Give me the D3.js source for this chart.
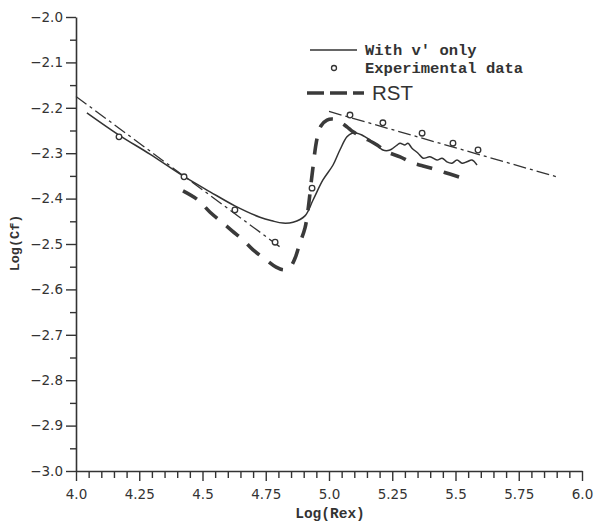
<!DOCTYPE html>
<html>
<head>
<meta charset="utf-8">
<script src="https://cdn.jsdelivr.net/npm/d3@7"></script>
<style>
  body { margin: 0; background: #fff; }
  svg { display: block; }
</style>
</head>
<body>
<svg id="chart" width="595" height="529"></svg>
<script>
// Axis ticks and labels
const xTicks = [4.0, 4.25, 4.5, 4.75, 5.0, 5.25, 5.5, 5.75, 6.0];
const xTickLabels = ["4.0", "4.25", "4.5", "4.75", "5.0", "5.25", "5.5", "5.75", "6.0"];
const yTicks = [-2.0, -2.1, -2.2, -2.3, -2.4, -2.5, -2.6, -2.7, -2.8, -2.9, -3.0];
const yTickLabels = ["−2.0", "−2.1", "−2.2", "−2.3", "−2.4", "−2.5", "−2.6", "−2.7", "−2.8", "−2.9", "−3.0"];

// Computation with v' only (solid)
const vOnlyX = [4.043, 4.170, 4.292, 4.423, 4.530, 4.628, 4.727, 4.775, 4.818, 4.858, 4.905, 4.937, 4.976,
                5.016, 5.043, 5.071, 5.091, 5.111, 5.130, 5.162, 5.190, 5.213, 5.241, 5.269, 5.281, 5.300,
                5.312, 5.328, 5.352, 5.372, 5.399, 5.427, 5.447, 5.466, 5.486, 5.506, 5.526, 5.545, 5.565, 5.585];
const vOnlyY = [-2.211, -2.260, -2.302, -2.350, -2.385, -2.416, -2.441, -2.449, -2.454, -2.452, -2.438, -2.403, -2.359,
                -2.326, -2.293, -2.264, -2.256, -2.256, -2.260, -2.271, -2.282, -2.293, -2.293, -2.282, -2.278, -2.282,
                -2.278, -2.289, -2.300, -2.311, -2.308, -2.315, -2.311, -2.319, -2.322, -2.315, -2.322, -2.319, -2.315, -2.326];

// Reynolds-stress transport model (heavy dashes)
const rstX = [4.423, 4.482, 4.530, 4.577, 4.617, 4.660, 4.700, 4.747, 4.791, 4.822, 4.846, 4.866, 4.885, 4.905,
              4.917, 4.933, 4.953, 4.968, 4.992, 5.020, 5.043, 5.071, 5.095, 5.142, 5.190, 5.229, 5.281, 5.332,
              5.372, 5.427, 5.478, 5.530];
const rstY = [-2.383, -2.403, -2.430, -2.452, -2.471, -2.491, -2.513, -2.533, -2.551, -2.557, -2.551, -2.531, -2.498, -2.465,
              -2.425, -2.348, -2.267, -2.240, -2.227, -2.225, -2.231, -2.242, -2.253, -2.267, -2.282, -2.297, -2.308, -2.322,
              -2.328, -2.337, -2.346, -2.355];

// Experimental data (open circles)
const expX = [4.170, 4.427, 4.628, 4.787, 4.933, 5.083, 5.213, 5.368, 5.490, 5.589];
const expY = [-2.264, -2.352, -2.425, -2.496, -2.377, -2.216, -2.233, -2.256, -2.278, -2.293];

// Laminar and turbulent correlations (thin dash-dot)
const lamX = [4.0, 4.81];
const lamY = [-2.175, -2.508];
const turbX = [5.0, 5.9];
const turbY = [-2.208, -2.352];

const ink = "#333";
const svg = d3.select("#chart");

const x = d3.scaleLinear().domain([4, 6]).range([76, 582]);
const y = d3.scaleLinear().domain([-3, -2]).range([471, 17]);

const zip = (xs, ys) => xs.map((v, i) => [v, ys[i]]);

// ---- axes ----
const tickFont = "'DejaVu Sans', sans-serif";

// minor ticks
const xMinor = d3.range(0, 41).map(i => 4 + i * 0.05).filter(v => Math.abs((v - 4) / 0.25 - Math.round((v - 4) / 0.25)) > 1e-6);
const yMinor = d3.range(0, 10).map(i => -2.05 - i * 0.1);

svg.append("g")
  .attr("transform", `translate(0,${y(-3)})`)
  .call(d3.axisBottom(x).tickValues(xMinor).tickSize(7).tickSizeOuter(0).tickFormat(""))
  .call(g => g.select(".domain").remove());

svg.append("g")
  .attr("transform", `translate(${x(4)},0)`)
  .call(d3.axisLeft(y).tickValues(yMinor).tickSize(6).tickSizeOuter(0).tickFormat(""))
  .call(g => g.select(".domain").remove());

const xAxis = svg.append("g")
  .attr("transform", `translate(0,${y(-3)})`)
  .call(d3.axisBottom(x).tickValues(xTicks).tickSize(10).tickSizeOuter(0).tickPadding(8)
        .tickFormat((d, i) => xTickLabels[i]));

const yAxis = svg.append("g")
  .attr("transform", `translate(${x(4)},0)`)
  .call(d3.axisLeft(y).tickValues(yTicks).tickSize(10).tickSizeOuter(0).tickPadding(3)
        .tickFormat((d, i) => yTickLabels[i]));

svg.selectAll(".tick line").attr("stroke", ink).attr("stroke-width", 1.4);
svg.selectAll(".domain").attr("stroke", ink).attr("stroke-width", 1.6);
svg.selectAll(".tick text")
  .attr("fill", ink)
  .style("font-family", tickFont)
  .style("font-size", "13.5px");

// axis titles
const monoFont = "'Liberation Mono', 'Courier New', monospace";
svg.append("text")
  .attr("x", 330).attr("y", 518)
  .attr("text-anchor", "middle")
  .attr("fill", ink)
  .style("font-family", monoFont).style("font-size", "14.5px").style("font-weight", "bold")
  .text("Log(Rex)");

svg.append("text")
  .attr("transform", "translate(19,243) rotate(-90)")
  .attr("text-anchor", "middle")
  .attr("fill", ink)
  .style("font-family", monoFont).style("font-size", "13.5px").style("font-weight", "bold")
  .text("Log(Cf)");

// ---- series ----
const line = d3.line().x(d => x(d[0])).y(d => y(d[1]));
const smooth = d3.line().x(d => x(d[0])).y(d => y(d[1])).curve(d3.curveCatmullRom.alpha(0.5));

// correlation lines
[[lamX, lamY], [turbX, turbY]].forEach(([xs, ys]) => {
  svg.append("path")
    .attr("d", line(zip(xs, ys)))
    .attr("fill", "none")
    .attr("stroke", ink)
    .attr("stroke-width", 1.3)
    .attr("stroke-dasharray", "13,4,3,4");
});

// v' only
svg.append("path")
  .attr("d", smooth(zip(vOnlyX, vOnlyY)))
  .attr("fill", "none")
  .attr("stroke", ink)
  .attr("stroke-width", 1.5)
  .attr("stroke-linejoin", "round");

// RST
svg.append("path")
  .attr("d", smooth(zip(rstX, rstY)))
  .attr("fill", "none")
  .attr("stroke", "#3a3a3a")
  .attr("stroke-width", 3.6)
  .attr("stroke-dasharray", "16,12");

// experimental points
svg.append("g").selectAll("circle")
  .data(zip(expX, expY))
  .join("circle")
  .attr("cx", d => x(d[0]))
  .attr("cy", d => y(d[1]))
  .attr("r", 2.8)
  .attr("fill", "#fff")
  .attr("stroke", ink)
  .attr("stroke-width", 1.3);

// ---- legend ----
const lg = svg.append("g");
lg.append("line").attr("x1", 310).attr("x2", 357).attr("y1", 50).attr("y2", 50)
  .attr("stroke", ink).attr("stroke-width", 1.5);
lg.append("text").attr("x", 365).attr("y", 55)
  .attr("fill", ink)
  .style("font-family", monoFont).style("font-size", "15.5px").style("font-weight", "bold")
  .text("With v′ only");

lg.append("circle").attr("cx", 334).attr("cy", 68).attr("r", 2.5)
  .attr("fill", "#fff").attr("stroke", ink).attr("stroke-width", 1.3);
lg.append("text").attr("x", 365).attr("y", 73)
  .attr("fill", ink)
  .style("font-family", monoFont).style("font-size", "15.5px").style("font-weight", "bold")
  .text("Experimental data");

lg.append("line").attr("x1", 307).attr("x2", 364).attr("y1", 93).attr("y2", 93)
  .attr("stroke", "#3a3a3a").attr("stroke-width", 3.4)
  .attr("stroke-dasharray", "17,6");
lg.append("text").attr("x", 372).attr("y", 100)
  .attr("fill", ink)
  .style("font-family", "'Liberation Sans', Arial, sans-serif").style("font-size", "20.5px")
  .text("RST");
</script>
</body>
</html>
